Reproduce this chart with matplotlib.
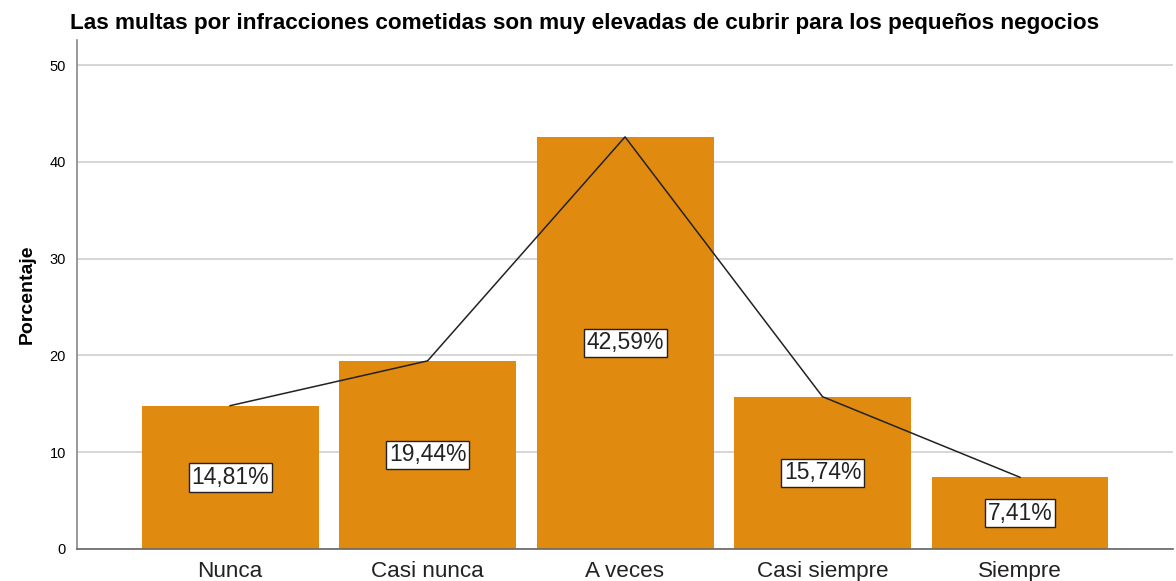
import matplotlib
matplotlib.use('Agg')
import matplotlib.pyplot as plt

categorias = ['Nunca', 'Casi nunca', 'A veces', 'Casi siempre', 'Siempre']
porcentajes = [14.81, 19.44, 42.59, 15.74, 7.41]
etiquetas = ['14,81%', '19,44%', '42,59%', '15,74%', '7,41%']

plt.rcParams['font.family'] = ['Liberation Sans', 'DejaVu Sans']

fig = plt.figure(figsize=(11.76, 5.81), dpi=100)
ax = fig.add_axes([0.0655, 0.0551, 0.932, 0.876])

x = range(len(categorias))
ax.bar(x, porcentajes, width=0.896, color='#E08A0F', zorder=2)
ax.plot(x, porcentajes, color='#222222', linewidth=1.1, zorder=3)

for i, (v, t) in enumerate(zip(porcentajes, etiquetas)):
    ax.text(i, v / 2, t, ha='center', va='center', fontsize=16.5, color='#222222', zorder=4,
            bbox=dict(boxstyle='square,pad=0.12', facecolor='white', edgecolor='#222222', linewidth=1))

ax.set_xlim(-0.775, 4.775)
ax.set_ylim(0, 52.6)
ax.set_yticks([0, 10, 20, 30, 40, 50])
ax.set_xticks(list(x))
ax.set_xticklabels(categorias, fontsize=16.2, color='#222222')
ax.tick_params(axis='y', labelsize=10.5, length=0, pad=8)
ax.tick_params(axis='x', length=0, pad=9)
ax.yaxis.grid(True, color='#cfcfcf', linewidth=1.2, zorder=0)
ax.set_axisbelow(True)
for s in ['top', 'right']:
    ax.spines[s].set_visible(False)
ax.spines['left'].set_color('#888888')
ax.spines['left'].set_linewidth(1.2)
ax.spines['bottom'].set_color('#666666')
ax.spines['bottom'].set_linewidth(1.2)

ax.set_ylabel('Porcentaje', fontsize=14, fontweight='bold', labelpad=10)
fig.text(0.0595, 0.96, 'Las multas por infracciones cometidas son muy elevadas de cubrir para los pequeños negocios',
         fontsize=16.2, fontweight='bold', ha='left', va='center')

fig.savefig('out.png', dpi=100)
